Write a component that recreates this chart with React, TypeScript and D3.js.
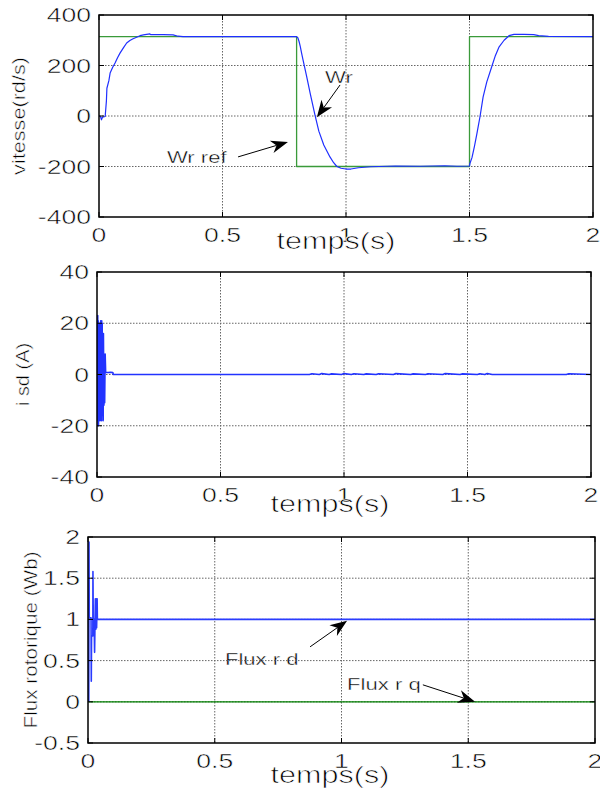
import React from 'react';
import * as d3 from 'd3';

const W = 600;
const H = 796;
const FONT = '"Liberation Sans", Arial, Helvetica, sans-serif';

// vitesse rotorique Wr (rd/s) en fonction du temps (s)
const wrTime = [0, 0.006, 0.01, 0.014, 0.025, 0.03, 0.032, 0.04, 0.045, 0.055, 0.065, 0.075, 0.085, 0.1, 0.112, 0.125, 0.138, 0.15, 0.166, 0.18, 0.206, 0.21, 0.26, 0.3, 0.32, 0.34, 0.8,
  0.805, 0.81, 0.815, 0.82, 0.826, 0.84, 0.855, 0.874, 0.89, 0.91, 0.935, 0.95, 0.963, 0.98, 1.0, 1.02, 1.05, 1.1, 1.2, 1.3, 1.4, 1.45, 1.5,
  1.502, 1.51, 1.52, 1.53, 1.543, 1.555, 1.57, 1.59, 1.605, 1.62, 1.64, 1.66, 1.68, 1.72, 1.76, 1.78, 1.82, 2];
const wrSpeed = [0, -2, -15, -5, -2, 60, 110, 140, 170, 192, 210, 231, 249, 272, 289, 299, 306, 311, 318, 321, 325, 322, 322, 321, 316, 314, 314,
  310, 295, 275, 250, 222, 160, 90, 5, -60, -115, -162, -185, -200, -207, -210, -210, -205, -201, -198, -199, -197, -199, -198,
  -187, -165, -120, -70, 0, 75, 135, 195, 240, 274, 300, 318, 323, 323, 322, 318, 315, 314];
const wrRefTime = [0, 0.8, 0.8, 1.5, 1.5, 2];
const wrRefSpeed = [314, 314, -200, -200, 314, 314];

// courant isd (A)
const isdTime = [0, 0.001, 0.002, 0.003, 0.004, 0.005, 0.006, 0.007, 0.008, 0.009, 0.01, 0.011, 0.012, 0.013, 0.014, 0.015, 0.016, 0.017, 0.018, 0.019, 0.02, 0.021, 0.022, 0.023, 0.025, 0.026, 0.028, 0.029, 0.031, 0.033, 0.035, 0.036, 0.045, 0.055, 0.064, 0.066,
  0.86, 0.87, 0.9, 0.91, 0.94, 0.95, 0.99, 1.0, 1.03, 1.04, 1.08, 1.09, 1.13, 1.14, 1.2, 1.21, 1.27, 1.28, 1.33, 1.34, 1.4, 1.41, 1.47, 1.48, 1.54, 1.55, 1.57, 1.58, 1.59, 1.6, 1.9, 1.91, 2];
const isdValue = [0, 22, -18, 23, -20, 21, -20, 19, -17, 18, -17, 20, -18, 20, -17, 21, -17, 20, -18, 21, -16, 20, -14, 16, -18, 16, -12, 8, -11, 8, 1, 0.8, 0.8, 0.9, 0.8, 0,
  0, 0.3, 0, 0.35, 0, 0.25, 0, 0.35, 0, 0.3, 0, 0.25, 0, 0.3, 0, 0.35, 0, 0.25, 0, 0.3, 0, 0.35, 0, 0.25, 0, 0.3, 0, 0.4, 0.2, 0, 0, 0.3, 0];

// flux rotoriques (Wb)
const fluxDTime = [0.003, 0.004, 0.005, 0.012, 0.013, 0.014, 0.019, 0.0195, 0.021, 0.024, 0.026, 0.029, 0.031, 0.033, 0.034, 0.036, 0.037, 2];
const fluxDValue = [0, 1.94, 1.02, 1.02, 0.25, 0.8, 0.8, 1.58, 0.92, 1.0, 0.6, 1.25, 0.88, 1.25, 0.9, 1.25, 1.0, 1.0];
const fluxQTime = [0.004, 2];
const fluxQValue = [0, 0];

const timeTicks = [0, 0.5, 1, 1.5, 2];
const speedTicks = [-400, -200, 0, 200, 400];
const isdTicks = [-40, -20, 0, 20, 40];
const fluxTicks = [-0.5, 0, 0.5, 1, 1.5, 2];

type Series = { t: number[]; v: number[]; color: string; width: number };
type Note = { text: string; tx: number; ty: number; x1: number; y1: number; x2: number; y2: number };
type Box = { left: number; top: number; right: number; bottom: number };

function Txt({ x, y, size, sx = 1.33, anchor = 'start', rotate = 0, thin = 0.5, children }: any) {
  return (
    <text transform={`translate(${x},${y}) rotate(${rotate}) scale(${sx},1)`} fontSize={size}
      textAnchor={anchor} fontFamily={FONT} fill="#000" stroke={thin ? '#fff' : 'none'} strokeWidth={thin}>{children}</text>
  );
}

function Arrow({ x1, y1, x2, y2 }: { x1: number; y1: number; x2: number; y2: number }) {
  const len = 17, half = 6.5;
  const dx = x2 - x1, dy = y2 - y1, L = Math.hypot(dx, dy);
  const ux = dx / L, uy = dy / L, px = -uy, py = ux;
  const bx = x2 - ux * len, by = y2 - uy * len;
  const nx = x2 - ux * len * 0.7, ny = y2 - uy * len * 0.7;
  const head = `M${x2},${y2}L${bx + px * half},${by + py * half}L${nx},${ny}L${bx - px * half},${by - py * half}Z`;
  return (
    <g>
      <line x1={x1} y1={y1} x2={nx} y2={ny} stroke="#000" strokeWidth={1} />
      <path d={head} fill="#000" />
    </g>
  );
}

function Panel({ box, yDomain, yTicks, yLabel, yLabelX, yLabelSx, series, notes, xLabelX, xLabelY }: {
  box: Box; yDomain: [number, number]; yTicks: number[]; yLabel: string; yLabelX: number; yLabelSx: number;
  series: Series[]; notes: Note[]; xLabelX: number; xLabelY: number;
}) {
  const x = d3.scaleLinear().domain([0, 2]).range([box.left, box.right]);
  const y = d3.scaleLinear().domain(yDomain).range([box.bottom, box.top]);
  const line = (s: Series) => d3.line<number>().x((d) => x(d)).y((_, i) => y(s.v[i]))(s.t) || '';
  const tick = 5;
  const clipId = `clip-${box.top}`;
  return (
    <g>
      <defs>
        <clipPath id={clipId}>
          <rect x={box.left} y={box.top} width={box.right - box.left} height={box.bottom - box.top} />
        </clipPath>
      </defs>
      <rect x={box.left} y={box.top} width={box.right - box.left} height={box.bottom - box.top} fill="#fff" />
      {/* annotations texte sous la grille */}
      {notes.map((n) => (
        <Txt key={'n' + n.text} x={x(n.tx)} y={y(n.ty)} size={17} sx={1.3} thin={0.4}>{n.text}</Txt>
      ))}
      {/* grille */}
      {timeTicks.slice(1, -1).map((t) => (
        <line key={'gx' + t} x1={x(t)} x2={x(t)} y1={box.top} y2={box.bottom} stroke="#666" strokeWidth={1} strokeDasharray="1.5,1.5" />
      ))}
      {yTicks.slice(1, -1).map((v) => (
        <line key={'gy' + v} x1={box.left} x2={box.right} y1={y(v)} y2={y(v)} stroke="#666" strokeWidth={1} strokeDasharray="1.5,1.5" />
      ))}
      <g clipPath={`url(#${clipId})`}>
        {series.map((s, i) => (
          <path key={i} d={line(s)} fill="none" stroke={s.color} strokeWidth={s.width} strokeLinejoin="round" />
        ))}
      </g>
      {/* graduations */}
      {timeTicks.map((t) => (
        <g key={'tx' + t}>
          <line x1={x(t)} x2={x(t)} y1={box.bottom} y2={box.bottom - tick} stroke="#000" />
          <line x1={x(t)} x2={x(t)} y1={box.top} y2={box.top + tick} stroke="#000" />
          <Txt x={x(t)} y={box.bottom + 25} size={20} anchor="middle">{String(t)}</Txt>
        </g>
      ))}
      {yTicks.map((v) => (
        <g key={'ty' + v}>
          <line x1={box.left} x2={box.left + tick} y1={y(v)} y2={y(v)} stroke="#000" />
          <line x1={box.right} x2={box.right - tick} y1={y(v)} y2={y(v)} stroke="#000" />
          <Txt x={box.left - 8} y={y(v) + 7} size={20} anchor="end">{String(v)}</Txt>
        </g>
      ))}
      <rect x={box.left} y={box.top} width={box.right - box.left} height={box.bottom - box.top} fill="none" stroke="#000" strokeWidth={1.5} />
      <Txt x={xLabelX} y={xLabelY} size={23.5} sx={1.3} thin={0.7} anchor="middle">temps(s)</Txt>
      <Txt x={yLabelX} y={(box.top + box.bottom) / 2} size={19} sx={yLabelSx} anchor="middle" rotate={-90}>{yLabel}</Txt>
      {notes.map((n) => (
        <Arrow key={'a' + n.text} x1={x(n.x1)} y1={y(n.y1)} x2={x(n.x2)} y2={y(n.y2)} />
      ))}
    </g>
  );
}

export default function App() {
  return (
    <svg width={W} height={H} style={{ position: 'absolute', left: 0, top: 0, background: '#fff' }}>
      <rect width={W} height={H} fill="#fff" />
      <Panel
        box={{ left: 99, top: 15, right: 593, bottom: 217 }}
        yDomain={[-400, 400]} yTicks={speedTicks}
        yLabel="vitesse(rd/s)" yLabelX={25} yLabelSx={1.14}
        xLabelX={336} xLabelY={249}
        series={[
          { t: wrRefTime, v: wrRefSpeed, color: '#3a9a3a', width: 1.3 },
          { t: wrTime, v: wrSpeed, color: '#1f2fff', width: 1.2 },
        ]}
        notes={[
          { text: 'Wr', tx: 0.915, ty: 131, x1: 0.976, y1: 123, x2: 0.882, y2: -5 },
          { text: 'Wr ref', tx: 0.275, ty: -186, x1: 0.563, y1: -162, x2: 0.765, y2: -103 },
        ]}
      />
      <Panel
        box={{ left: 97, top: 272, right: 591, bottom: 477 }}
        yDomain={[-40, 40]} yTicks={isdTicks}
        yLabel="i sd (A)" yLabelX={29} yLabelSx={1.05}
        xLabelX={330} xLabelY={512}
        series={[{ t: isdTime, v: isdValue, color: '#2233ff', width: 1.6 }]}
        notes={[]}
      />
      <Panel
        box={{ left: 88, top: 537, right: 595, bottom: 743 }}
        yDomain={[-0.5, 2]} yTicks={fluxTicks}
        yLabel="Flux rotorique (Wb)" yLabelX={37} yLabelSx={1.09}
        xLabelX={330} xLabelY={783}
        series={[
          { t: fluxQTime, v: fluxQValue, color: '#008000', width: 1.3 },
          { t: fluxDTime, v: fluxDValue, color: '#2a3cff', width: 1.6 },
        ]}
        notes={[
          { text: 'Flux r d', tx: 0.54, ty: 0.449, x1: 0.876, y1: 0.667, x2: 1.022, y2: 0.983 },
          { text: 'Flux r q', tx: 1.022, ty: 0.146, x1: 1.321, y1: 0.206, x2: 1.527, y2: 0 },
        ]}
      />
    </svg>
  );
}
